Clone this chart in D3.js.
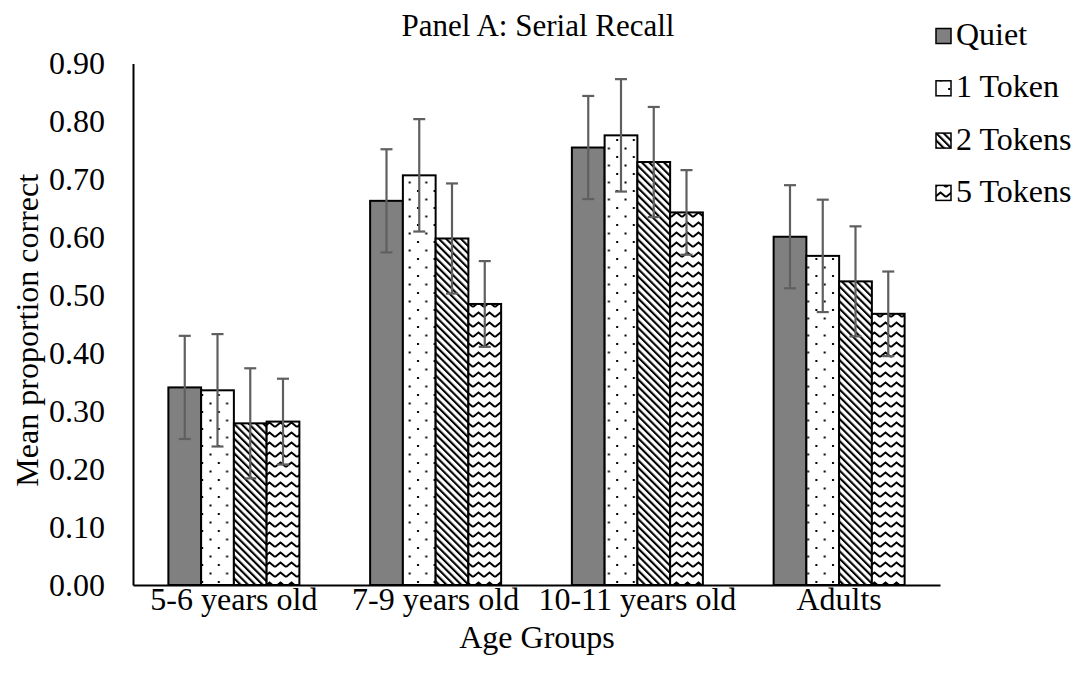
<!DOCTYPE html>
<html>
<head>
<meta charset="utf-8">
<script src="https://cdn.jsdelivr.net/npm/d3@7"></script>
<style>
  html, body { margin: 0; padding: 0; background: #fff; }
  svg text { font-family: "Liberation Serif", "Times New Roman", serif; fill: #000; }
</style>
</head>
<body>
<svg id="chart" width="1088" height="688"></svg>
<script>
// Age groups on the x axis
const groups = ["5-6 years old", "7-9 years old", "10-11 years old", "Adults"];
// Listening conditions (series)
const conditions = ["Quiet", "1 Token", "2 Tokens", "5 Tokens"];
// Mean proportion correct per condition, one value per age group
const quiet      = [0.341, 0.663, 0.755, 0.601];
const oneToken   = [0.336, 0.707, 0.776, 0.568];
const twoTokens  = [0.279, 0.598, 0.730, 0.524];
const fiveTokens = [0.282, 0.485, 0.643, 0.468];
// Error bar half-widths
const quietErr      = [0.089, 0.089, 0.089, 0.089];
const oneTokenErr   = [0.097, 0.097, 0.097, 0.097];
const twoTokensErr  = [0.095, 0.095, 0.095, 0.095];
const fiveTokensErr = [0.074, 0.074, 0.073, 0.073];
// Y axis ticks
const yTicks = [0, 0.1, 0.2, 0.3, 0.4, 0.5, 0.6, 0.7, 0.8, 0.9];

const seriesValues = [quiet, oneToken, twoTokens, fiveTokens];
const seriesErrors = [quietErr, oneTokenErr, twoTokensErr, fiveTokensErr];
const fills = ["#808080", "url(#dots)", "url(#diag)", "url(#wave)"];

const serif = '"Liberation Serif", "Times New Roman", serif';
const svg = d3.select("#chart");
const plotLeft = 133, plotRight = 940, plotTop = 63.5, plotBottom = 585;

// Fill patterns
const defs = svg.append("defs");
const dots = defs.append("pattern").attr("id", "dots")
  .attr("patternUnits", "userSpaceOnUse").attr("width", 16.6).attr("height", 17);
dots.append("rect").attr("width", 16.6).attr("height", 17).attr("fill", "#fff");
dots.append("rect").attr("x", 2).attr("y", 3).attr("width", 2).attr("height", 2).attr("fill", "#000");
dots.append("rect").attr("x", 10.3).attr("y", 11.5).attr("width", 2).attr("height", 2).attr("fill", "#000");

const diag = defs.append("pattern").attr("id", "diag")
  .attr("patternUnits", "userSpaceOnUse").attr("width", 5.2).attr("height", 10)
  .attr("patternTransform", "rotate(-45)");
diag.append("rect").attr("width", 5.2).attr("height", 10).attr("fill", "#fff");
diag.append("rect").attr("x", 0).attr("width", 2.1).attr("height", 10).attr("fill", "#000");

const wave = defs.append("pattern").attr("id", "wave")
  .attr("patternUnits", "userSpaceOnUse").attr("width", 11).attr("height", 10);
wave.append("rect").attr("width", 11).attr("height", 10).attr("fill", "#fff");
wave.append("path").attr("d", "M0,7 L5.5,2.5 L11,7").attr("fill", "none")
  .attr("stroke", "#000").attr("stroke-width", 2);

// Scales
const x0 = d3.scaleBand().domain(groups).range([plotLeft, plotRight]).padding(0);
const x1 = d3.scaleBand().domain(conditions).range([0, x0.bandwidth()])
  .paddingInner(0).paddingOuter(1.08);
const y = d3.scaleLinear().domain([0, 0.9]).range([plotBottom, plotTop]);

// Y axis
const yAxis = svg.append("g").attr("transform", `translate(${plotLeft},0)`)
  .attr("font-family", serif)
  .call(d3.axisLeft(y).tickValues(yTicks).tickFormat(d3.format(".2f")).tickSize(0).tickPadding(28));
yAxis.select(".domain").attr("stroke", "#000").attr("stroke-width", 2);
yAxis.selectAll("text").style("font-size", "32px").style("font-family", serif);

// Bars
const g = svg.append("g");
conditions.forEach((c, si) => {
  g.selectAll(null).data(groups).enter().append("rect")
    .attr("x", d => x0(d) + x1(c))
    .attr("y", (d, i) => y(seriesValues[si][i]))
    .attr("width", x1.bandwidth())
    .attr("height", (d, i) => y(0) - y(seriesValues[si][i]))
    .attr("fill", fills[si])
    .attr("stroke", "#000").attr("stroke-width", 2);
});

// Error bars
const capW = 12;
conditions.forEach((c, si) => {
  groups.forEach((grp, i) => {
    const cx = x0(grp) + x1(c) + x1.bandwidth() / 2;
    const v = seriesValues[si][i], e = seriesErrors[si][i];
    const eg = svg.append("g").attr("stroke", "#5f5f5f").attr("stroke-width", 2.2);
    eg.append("line").attr("x1", cx).attr("x2", cx).attr("y1", y(v + e)).attr("y2", y(v - e));
    eg.append("line").attr("x1", cx - capW / 2).attr("x2", cx + capW / 2).attr("y1", y(v + e)).attr("y2", y(v + e));
    eg.append("line").attr("x1", cx - capW / 2).attr("x2", cx + capW / 2).attr("y1", y(v - e)).attr("y2", y(v - e));
  });
});

// X axis
const xAxis = svg.append("g").attr("transform", `translate(0,${plotBottom})`)
  .attr("font-family", serif)
  .call(d3.axisBottom(x0).tickSize(0).tickPadding(2));
xAxis.select(".domain").attr("stroke", "#000").attr("stroke-width", 2);
xAxis.selectAll("text").style("font-size", "32px").style("font-family", serif);

// Titles
svg.append("text").attr("x", 538).attr("y", 36).attr("text-anchor", "middle")
  .style("font-size", "31px").text("Panel A: Serial Recall");
svg.append("text").attr("x", 537).attr("y", 648).attr("text-anchor", "middle")
  .style("font-size", "32px").text("Age Groups");
svg.append("text").attr("transform", `translate(38,${(plotTop + plotBottom) / 2 + 6}) rotate(-90)`)
  .attr("text-anchor", "middle").style("font-size", "32px").text("Mean proportion correct");

// Legend
const legend = svg.append("g");
conditions.forEach((c, si) => {
  const ly = 28.5 + si * 52.3;
  legend.append("rect").attr("x", 936).attr("y", ly).attr("width", 15).attr("height", 15)
    .attr("fill", fills[si]).attr("stroke", "#000").attr("stroke-width", 1.5);
  legend.append("text").attr("x", 956).attr("y", ly + 16.5).style("font-size", "32px").text(c);
});
</script>
</body>
</html>
